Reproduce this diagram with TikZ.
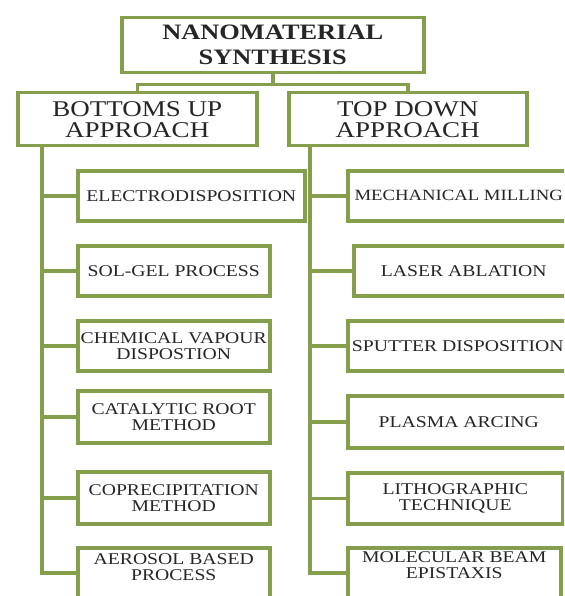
\documentclass[tikz,border=0pt]{standalone}
\usepackage{fontspec}
\setmainfont{Liberation Serif}[FakeStretch=1.2]
\usetikzlibrary{calc}
\definecolor{olive}{RGB}{132,158,76}
\definecolor{ink}{RGB}{38,38,38}
\tikzset{
  box/.style={draw=olive, line width=3.5pt, fill=white, rectangle, anchor=north west, inner sep=0pt, align=center, text=ink},
  titletext/.style={font=\fontsize{22}{25}\selectfont\bfseries},
  apptext/.style={font=\fontsize{22.5}{21}\selectfont},
  kidtext/.style={font=\fontsize{16.4}{16}\selectfont},
  smallkid/.style={font=\fontsize{15.6}{16}\selectfont},
  lbl/.style={text=ink, align=center, inner sep=0pt},
  link/.style={draw=olive, line width=3.5pt},
}
\begin{document}
\begin{tikzpicture}[x=1pt,y=-1pt]
\useasboundingbox (0,0) rectangle (564,596);
\clip (0,0) rectangle (564,596);
\fill[white] (0,0) rectangle (564,596);
% title
\node[box, titletext, minimum width=302, minimum height=55] (top) at (120,16) {NANOMATERIAL\\SYNTHESIS};
% approaches
\node[box, apptext, minimum width=239, minimum height=53] (bu) at (16,91) {BOTTOMS UP\\APPROACH};
\node[box, apptext, minimum width=238, minimum height=53] (td) at (287,91) {TOP DOWN\\APPROACH};
% joints
\coordinate (j) at ($(top.south)+(0,10)$);
\draw[link] (top.south) -- (j);
\draw[link] (bu.north) |- (j) -| (td.north);
% left children
\node[box, kidtext, minimum width=227, minimum height=50] (e1) at (76,169) {ELECTRODISPOSITION};
\node[box, kidtext, minimum width=192, minimum height=50] (e2) at (76,244) {SOL-GEL PROCESS};
\node[box, kidtext, minimum width=192, minimum height=50] (e3) at (76,319) {CHEMICAL VAPOUR\\DISPOSTION};
\node[box, kidtext, minimum width=192, minimum height=52] (e4) at (76,389) {CATALYTIC ROOT\\METHOD};
\node[box, kidtext, minimum width=192, minimum height=52] (e5) at (76,470) {COPRECIPITATION\\METHOD};
\node[box, minimum width=192, minimum height=50] (e6) at (76,546) {};
\node[lbl, kidtext, anchor=north] (e6t) at ($(e6.north)+(0,7)$) {AEROSOL BASED\\PROCESS};
% right children
\node[box, smallkid, minimum width=222, minimum height=50] (r1) at (346,169) {MECHANICAL MILLING};
\node[box, kidtext, minimum width=220, minimum height=50] (r2) at (352,244) {LASER ABLATION};
\node[box, kidtext, minimum width=220, minimum height=50] (r3) at (346,319) {SPUTTER DISPOSITION};
\node[box, kidtext, minimum width=222, minimum height=52] (r4) at (346,394) {PLASMA ARCING};
\node[box, kidtext, minimum width=215, minimum height=51] (r5) at (346,471) {LITHOGRAPHIC\\TECHNIQUE};
\node[box, minimum width=213, minimum height=50] (r6) at (346,546) {};
\node[lbl, kidtext, anchor=north] (r6t) at ($(r6.north)+(0,5)$) {MOLECULAR BEAM\\EPISTAXIS};
% spines
\coordinate (ls) at ($(bu.south west)+(26,0)$);
\coordinate (rs) at ($(td.south west)+(23,0)$);
\draw[link] (ls) |- (e6.west);
\draw[link] (rs) |- (r6.west);
\foreach \n in {e1,e2,e3,e4,e5} \draw[link] (ls |- \n.west) -- (\n.west);
\foreach \n in {r1,r2,r3,r4,r5} \draw[link] (rs |- \n.west) -- (\n.west);
\end{tikzpicture}
\end{document}
